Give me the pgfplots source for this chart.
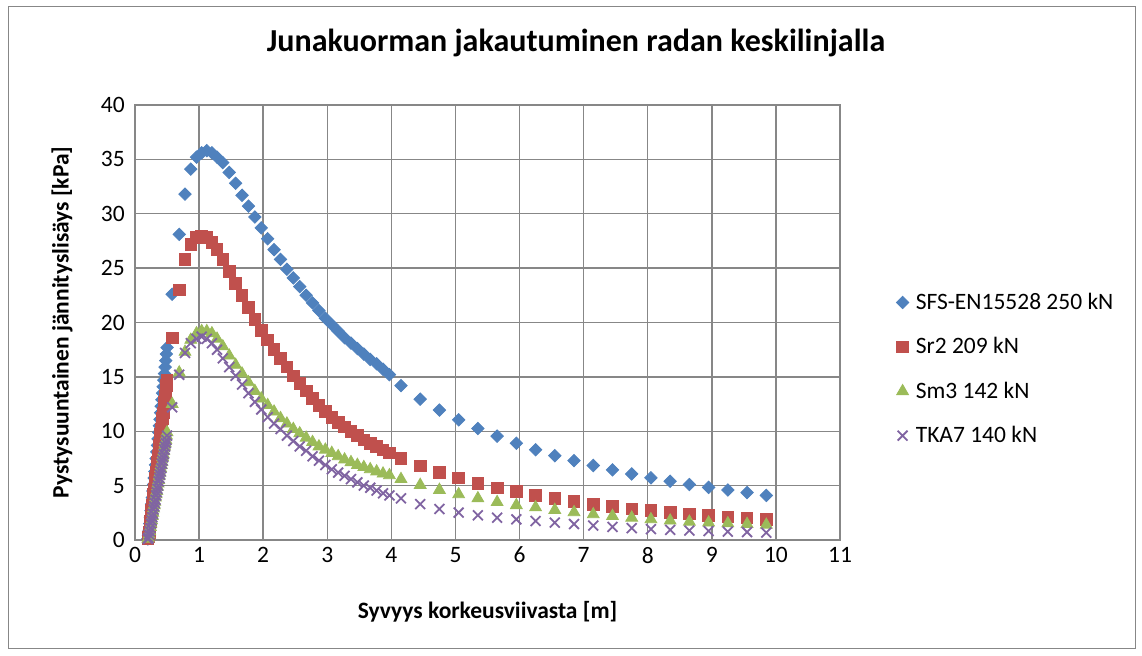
\documentclass[border=0pt]{standalone}
\usepackage{fontspec}
\setmainfont{Carlito}
\usepackage{pgfplots}
\usepackage{pgfplotstable}
\pgfplotsset{compat=1.18}
\definecolor{sBlue}{HTML}{4F81BD}
\definecolor{sRed}{HTML}{C0504D}
\definecolor{sGreen}{HTML}{9BBB59}
\definecolor{sPurple}{HTML}{8064A2}
\definecolor{gridgray}{HTML}{878787}

\pgfplotstableread[row sep=\\]{
x y\\
0.20 0.1\\ 0.21 0.4\\ 0.22 0.9\\ 0.23 1.5\\ 0.24 2.1\\ 0.25 2.7\\ 0.26 3.3\\ 0.27 3.9\\ 0.28 4.5\\ 0.29 5.1\\
0.30 5.7\\ 0.31 6.3\\ 0.32 6.9\\ 0.33 7.5\\ 0.34 8.1\\ 0.35 8.7\\ 0.36 9.3\\ 0.37 9.9\\ 0.38 10.5\\ 0.39 11.1\\
0.40 11.7\\ 0.41 12.3\\ 0.42 12.9\\ 0.43 13.5\\ 0.44 14.1\\ 0.45 14.7\\ 0.46 15.3\\ 0.47 15.9\\ 0.48 16.5\\ 0.49 17.1\\ 0.50 17.7\\
0.58 22.6\\ 0.69 28.1\\ 0.78 31.8\\ 0.87 34.1\\ 0.96 35.2\\ 1.04 35.6\\ 1.12 35.8\\ 1.20 35.6\\ 1.28 35.2\\ 1.37 34.7\\
1.47 33.8\\ 1.57 32.8\\ 1.67 31.7\\ 1.77 30.7\\ 1.87 29.7\\ 1.97 28.7\\ 2.07 27.7\\ 2.17 26.7\\ 2.27 25.8\\ 2.37 24.9\\
2.47 24.1\\ 2.57 23.3\\ 2.67 22.5\\ 2.77 21.8\\ 2.87 21.1\\ 2.97 20.4\\ 3.07 19.8\\ 3.17 19.2\\ 3.27 18.6\\ 3.37 18.1\\
3.47 17.6\\ 3.57 17.1\\ 3.67 16.6\\ 3.77 16.2\\ 3.87 15.7\\ 3.97 15.2\\
4.15 14.2\\ 4.45 12.95\\ 4.75 11.95\\ 5.05 11.05\\ 5.35 10.25\\ 5.65 9.55\\ 5.95 8.9\\ 6.25 8.3\\ 6.55 7.75\\ 6.85 7.3\\
7.15 6.85\\ 7.45 6.45\\ 7.75 6.07\\ 8.05 5.72\\ 8.35 5.4\\ 8.65 5.1\\ 8.95 4.84\\ 9.25 4.6\\ 9.55 4.36\\ 9.85 4.1\\
}\tblue

\pgfplotstableread[row sep=\\]{
x y\\
0.20 0.1\\ 0.21 0.3\\ 0.22 0.7\\ 0.23 1.2\\ 0.24 1.7\\ 0.25 2.2\\ 0.26 2.7\\ 0.27 3.2\\ 0.28 3.7\\ 0.29 4.2\\
0.30 4.7\\ 0.31 5.2\\ 0.32 5.7\\ 0.33 6.2\\ 0.34 6.7\\ 0.35 7.2\\ 0.36 7.7\\ 0.37 8.2\\ 0.38 8.7\\ 0.39 9.2\\
0.40 9.7\\ 0.41 10.2\\ 0.42 10.7\\ 0.43 11.2\\ 0.44 11.7\\ 0.45 12.2\\ 0.46 12.7\\ 0.47 13.2\\ 0.48 13.7\\ 0.49 14.2\\ 0.50 14.7\\
0.58 18.6\\ 0.69 23.0\\ 0.78 25.8\\ 0.87 27.2\\ 0.96 27.8\\ 1.04 27.95\\ 1.12 27.8\\ 1.20 27.35\\ 1.28 26.7\\ 1.37 25.8\\
1.47 24.7\\ 1.57 23.6\\ 1.67 22.5\\ 1.77 21.4\\ 1.87 20.3\\ 1.97 19.3\\ 2.07 18.4\\ 2.17 17.5\\ 2.27 16.7\\ 2.37 15.9\\
2.47 15.1\\ 2.57 14.4\\ 2.67 13.7\\ 2.77 13.0\\ 2.87 12.4\\ 2.97 11.8\\ 3.07 11.3\\ 3.17 10.8\\ 3.27 10.4\\ 3.37 10.0\\
3.47 9.6\\ 3.57 9.2\\ 3.67 8.9\\ 3.77 8.6\\ 3.87 8.3\\ 3.97 8.0\\
4.15 7.5\\ 4.45 6.8\\ 4.75 6.2\\ 5.05 5.7\\ 5.35 5.2\\ 5.65 4.8\\ 5.95 4.45\\ 6.25 4.1\\ 6.55 3.83\\ 6.85 3.55\\
7.15 3.3\\ 7.45 3.07\\ 7.75 2.87\\ 8.05 2.7\\ 8.35 2.53\\ 8.65 2.4\\ 8.95 2.27\\ 9.25 2.14\\ 9.55 2.02\\ 9.85 1.92\\
}\tred

\pgfplotstableread[row sep=\\]{
x y\\
0.20 0.1\\ 0.21 0.2\\ 0.22 0.5\\ 0.23 0.8\\ 0.24 1.2\\ 0.25 1.5\\ 0.26 1.8\\ 0.27 2.2\\ 0.28 2.5\\ 0.29 2.9\\
0.30 3.2\\ 0.31 3.5\\ 0.32 3.9\\ 0.33 4.2\\ 0.34 4.5\\ 0.35 4.9\\ 0.36 5.2\\ 0.37 5.5\\ 0.38 5.9\\ 0.39 6.2\\
0.40 6.6\\ 0.41 6.9\\ 0.42 7.2\\ 0.43 7.6\\ 0.44 7.9\\ 0.45 8.2\\ 0.46 8.6\\ 0.47 8.9\\ 0.48 9.2\\ 0.49 9.6\\ 0.50 9.9\\
0.58 12.5\\ 0.69 15.4\\ 0.78 17.3\\ 0.87 18.4\\ 0.96 19.0\\ 1.04 19.2\\ 1.12 19.2\\ 1.20 19.0\\ 1.28 18.5\\ 1.37 17.8\\
1.47 16.95\\ 1.57 16.1\\ 1.67 15.3\\ 1.77 14.5\\ 1.87 13.7\\ 1.97 13.0\\ 2.07 12.4\\ 2.17 11.8\\ 2.27 11.2\\ 2.37 10.7\\
2.47 10.2\\ 2.57 9.8\\ 2.67 9.4\\ 2.77 9.0\\ 2.87 8.6\\ 2.97 8.3\\ 3.07 8.0\\ 3.17 7.7\\ 3.27 7.4\\ 3.37 7.15\\
3.47 6.9\\ 3.57 6.7\\ 3.67 6.5\\ 3.77 6.3\\ 3.87 6.1\\ 3.97 5.95\\
4.15 5.6\\ 4.45 5.06\\ 4.75 4.6\\ 5.05 4.2\\ 5.35 3.83\\ 5.65 3.48\\ 5.95 3.2\\ 6.25 3.0\\ 6.55 2.76\\ 6.85 2.55\\
7.15 2.36\\ 7.45 2.2\\ 7.75 2.05\\ 8.05 1.9\\ 8.35 1.78\\ 8.65 1.68\\ 8.95 1.6\\ 9.25 1.53\\ 9.55 1.47\\ 9.85 1.4\\
}\tgreen

\pgfplotstableread[row sep=\\]{
x y\\
0.20 0.1\\ 0.21 0.2\\ 0.22 0.5\\ 0.23 0.8\\ 0.24 1.1\\ 0.25 1.5\\ 0.26 1.8\\ 0.27 2.1\\ 0.28 2.4\\ 0.29 2.8\\
0.30 3.1\\ 0.31 3.4\\ 0.32 3.7\\ 0.33 4.1\\ 0.34 4.4\\ 0.35 4.7\\ 0.36 5.0\\ 0.37 5.4\\ 0.38 5.7\\ 0.39 6.0\\
0.40 6.3\\ 0.41 6.6\\ 0.42 7.0\\ 0.43 7.3\\ 0.44 7.6\\ 0.45 7.9\\ 0.46 8.3\\ 0.47 8.6\\ 0.48 8.9\\ 0.49 9.2\\ 0.50 9.6\\
0.58 12.2\\ 0.69 15.2\\ 0.78 17.2\\ 0.87 18.1\\ 0.96 18.5\\ 1.04 18.7\\ 1.12 18.5\\ 1.20 18.1\\ 1.28 17.5\\ 1.37 16.7\\
1.47 15.9\\ 1.57 15.1\\ 1.67 14.3\\ 1.77 13.5\\ 1.87 12.7\\ 1.97 12.0\\ 2.07 11.3\\ 2.17 10.7\\ 2.27 10.2\\ 2.37 9.6\\
2.47 9.1\\ 2.57 8.6\\ 2.67 8.2\\ 2.77 7.7\\ 2.87 7.3\\ 2.97 6.9\\ 3.07 6.5\\ 3.17 6.2\\ 3.27 5.9\\ 3.37 5.6\\
3.47 5.3\\ 3.57 5.0\\ 3.67 4.8\\ 3.77 4.55\\ 3.87 4.3\\ 3.97 4.1\\
4.15 3.83\\ 4.45 3.3\\ 4.75 2.85\\ 5.05 2.52\\ 5.35 2.27\\ 5.65 2.05\\ 5.95 1.9\\ 6.25 1.75\\ 6.55 1.6\\ 6.85 1.47\\
7.15 1.33\\ 7.45 1.2\\ 7.75 1.09\\ 8.05 1.0\\ 8.35 0.93\\ 8.65 0.87\\ 8.95 0.82\\ 9.25 0.77\\ 9.55 0.73\\ 9.85 0.68\\
}\tpurple

\begin{document}
\begin{tikzpicture}
\path[use as bounding box] (0,0) rectangle (571pt,327.5pt);
\draw[gridgray, line width=0.5pt] (4pt,3.5pt) rectangle (567.5pt,324pt);
\begin{axis}[
  at={(67.5pt,57.5pt)}, anchor=south west,
  scale only axis, width=352.5pt, height=217.5pt,
  xmin=0, xmax=11, ymin=0, ymax=40,
  xtick={0,1,...,11}, ytick={0,5,...,40},
  grid=major,
  major grid style={gridgray, line width=0.7pt},
  axis line style={gridgray, line width=0.7pt},
  tick style={draw=none},
  clip=false,
  tick label style={font=\fontsize{11.75}{14}\selectfont, /pgf/number format/assume math mode=true},
  yticklabel style={xshift=-1.6pt},
  title={Junakuorman jakautuminen radan keskilinjalla},
  title style={font=\bfseries\fontsize{16}{20}\selectfont, at={(axis description cs:0.6255,1.115)}, anchor=center},
  xlabel={Syvyys korkeusviivasta [m]},
  xlabel style={font=\bfseries\fontsize{11.75}{14}\selectfont, at={(axis description cs:0.5,-0.1655)}, anchor=center},
  ylabel={Pystysuuntainen jännityslisäys [kPa]},
  ylabel style={font=\bfseries\fontsize{11.75}{14}\selectfont, at={(axis description cs:-0.1035,0.5)}, anchor=center},
  legend image code/.code={\draw[#1] plot coordinates {(0pt,0pt)};},
  legend style={draw=none, fill=none, inner sep=0pt, at={(axis description cs:1.0794,0.393)}, anchor=west,
    font=\fontsize{11.75}{14}\selectfont, row sep=12.2pt, column sep=3.5pt,
    nodes={inner sep=0pt, text height=8.5pt, text depth=1.5pt}},
  legend cell align=left,
]
\addplot[only marks, mark=square*, mark size=2.2pt, mark options={rotate=45, fill=sBlue, draw=sBlue}] table {\tblue};
\addlegendentry{SFS-EN15528 250 kN}
\addplot[only marks, mark=square*, mark size=2.9pt, mark options={fill=sRed, draw=sRed}] table {\tred};
\addlegendentry{Sr2 209 kN}
\addplot[only marks, mark=triangle*, mark size=3.4pt, mark options={fill=sGreen, draw=sGreen}] table {\tgreen};
\addlegendentry{Sm3 142 kN}
\addplot[only marks, mark=x, mark size=3.5pt, mark options={draw=sPurple, line width=0.9pt}] table {\tpurple};
\addlegendentry{TKA7 140 kN}
\end{axis}
\end{tikzpicture}
\end{document}
